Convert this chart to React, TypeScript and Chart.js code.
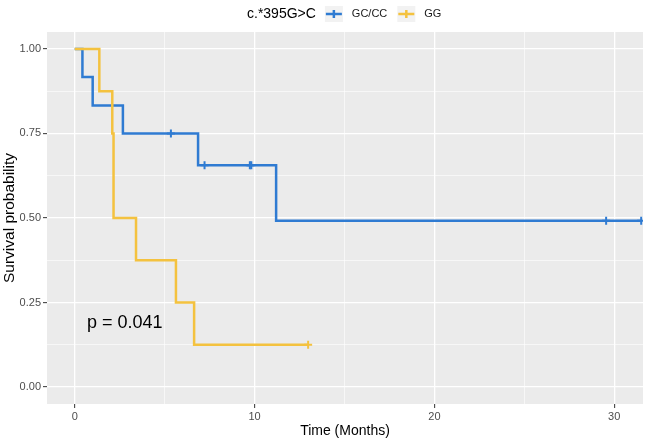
import React, { useEffect, useRef } from 'react';
import { Chart, registerables } from 'chart.js';

Chart.register(...registerables);

// Kaplan–Meier step data (time in months, survival probability)
const blueTimes = [0, 0.43, 1.0, 2.68, 6.86, 11.2, 31.5];
const blueSurv = [1, 0.917, 0.833, 0.75, 0.656, 0.492, 0.492];
const blueCensorTimes = [5.35, 7.22, 9.74, 9.82, 29.55, 31.5];
const blueCensorSurv = [0.75, 0.656, 0.656, 0.656, 0.492, 0.492];

const yellowTimes = [0, 1.37, 2.09, 2.16, 3.41, 5.63, 6.64, 12.98];
const yellowSurv = [1, 0.875, 0.75, 0.5, 0.375, 0.25, 0.125, 0.125];
const yellowCensorTimes = [12.98];
const yellowCensorSurv = [0.125];

const xTickValues = [0, 5, 10, 15, 20, 25, 30];
const yTickValues = [0, 0.125, 0.25, 0.375, 0.5, 0.625, 0.75, 0.875, 1];

const legendTitle = 'c.*395G>C';
const groupLabels = ['GC/CC', 'GG'];
const groupColors = ['#2F7BD2', '#F4C23F'];
const pValueText = 'p = 0.041';

const FONT = '"Liberation Sans", Arial, Helvetica, sans-serif';

const toPoints = (xs: number[], ys: number[]) => xs.map((x, i) => ({ x, y: ys[i] }));

export default function App() {
  const canvasRef = useRef<HTMLCanvasElement | null>(null);

  useEffect(() => {
    document.body.style.margin = '0';
    const canvas = canvasRef.current;
    if (!canvas) return;

    const panelBg = {
      id: 'panelBg',
      beforeDraw(chart: any) {
        const { ctx, chartArea } = chart;
        ctx.save();
        ctx.fillStyle = '#EBEBEB';
        ctx.fillRect(chartArea.left, chartArea.top, chartArea.right - chartArea.left, chartArea.bottom - chartArea.top);
        ctx.restore();
      },
    };

    const annotations = {
      id: 'annotations',
      afterDraw(chart: any) {
        const { ctx, scales } = chart;
        ctx.save();
        // p-value
        ctx.font = `18px ${FONT}`;
        ctx.fillStyle = '#000000';
        ctx.textAlign = 'left';
        ctx.textBaseline = 'middle';
        ctx.fillText(pValueText, scales.x.getPixelForValue(0.68), scales.y.getPixelForValue(0.19));

        // legend
        const cy = 14;
        let x = 247;
        ctx.font = `14px ${FONT}`;
        ctx.fillStyle = '#000000';
        ctx.fillText(legendTitle, x, cy);
        x += ctx.measureText(legendTitle).width + 9;
        groupLabels.forEach((label, i) => {
          const kw = 18;
          ctx.fillStyle = '#F2F2F2';
          ctx.fillRect(x, cy - 8, kw, 16);
          ctx.strokeStyle = groupColors[i];
          ctx.lineWidth = 2.5;
          ctx.beginPath();
          ctx.moveTo(x + 1, cy);
          ctx.lineTo(x + kw - 1, cy);
          ctx.moveTo(x + kw / 2, cy - 4);
          ctx.lineTo(x + kw / 2, cy + 4);
          ctx.stroke();
          x += kw + 9;
          ctx.font = `11px ${FONT}`;
          ctx.fillStyle = '#1A1A1A';
          ctx.fillText(label, x, cy);
          x += ctx.measureText(label).width + 10;
        });
        ctx.restore();
      },
    };

    const chart = new Chart(canvas, {
      type: 'scatter',
      data: {
        datasets: [
          {
            label: groupLabels[1] + ' censor',
            data: toPoints(yellowCensorTimes, yellowCensorSurv),
            showLine: false,
            pointStyle: 'cross',
            pointRadius: 4,
            pointBorderWidth: 2,
            borderColor: groupColors[1],
            backgroundColor: groupColors[1],
            order: 0,
          },
          {
            label: groupLabels[1],
            data: toPoints(yellowTimes, yellowSurv),
            showLine: true,
            stepped: 'before',
            borderColor: groupColors[1],
            borderWidth: 2.5,
            pointRadius: 0,
            order: 1,
          },
          {
            label: groupLabels[0] + ' censor',
            data: toPoints(blueCensorTimes, blueCensorSurv),
            showLine: false,
            pointStyle: 'cross',
            pointRadius: 4,
            pointBorderWidth: 2,
            borderColor: groupColors[0],
            backgroundColor: groupColors[0],
            order: 2,
          },
          {
            label: groupLabels[0],
            data: toPoints(blueTimes, blueSurv),
            showLine: true,
            stepped: 'before',
            borderColor: groupColors[0],
            borderWidth: 2.5,
            pointRadius: 0,
            order: 3,
          },
        ],
      },
      options: {
        animation: false,
        responsive: false,
        devicePixelRatio: 1,
        layout: { autoPadding: false, padding: { top: 32, right: 2, left: 0, bottom: 0 } },
        plugins: {
          legend: { display: false },
          tooltip: { enabled: false },
        },
        scales: {
          x: {
            type: 'linear',
            min: -1.54,
            max: 31.6,
            afterBuildTicks: (scale: any) => {
              scale.ticks = xTickValues.map((v) => ({ value: v }));
            },
            afterFit: (scale: any) => {
              scale.height = 37;
              scale.paddingLeft = 0;
              scale.paddingRight = 0;
            },
            border: { display: false },
            grid: {
              color: '#FFFFFF',
              lineWidth: (c: any) => (c.tick && c.tick.value % 10 === 0 ? 1.3 : 0.6),
              tickColor: (c: any) => (c.tick && c.tick.value % 10 === 0 ? '#333333' : 'rgba(0,0,0,0)'),
              tickLength: 4,
              tickWidth: 1,
            },
            ticks: {
              autoSkip: false,
              maxRotation: 0,
              padding: 2,
              color: '#4D4D4D',
              font: { family: FONT, size: 11 },
              callback: (v: any) => (Number(v) % 10 === 0 ? String(v) : ''),
            },
            title: {
              display: true,
              text: 'Time (Months)',
              color: '#000000',
              font: { family: FONT, size: 14 },
              padding: { top: 0, bottom: 1 },
            },
          },
          y: {
            type: 'linear',
            min: -0.05,
            max: 1.05,
            afterBuildTicks: (scale: any) => {
              scale.ticks = yTickValues.map((v) => ({ value: v }));
            },
            afterFit: (scale: any) => {
              scale.width = 47;
              scale.paddingTop = 0;
              scale.paddingBottom = 0;
            },
            border: { display: false },
            grid: {
              color: '#FFFFFF',
              lineWidth: (c: any) => (c.tick && c.tick.value % 0.25 === 0 ? 1.3 : 0.6),
              tickColor: (c: any) => (c.tick && c.tick.value % 0.25 === 0 ? '#333333' : 'rgba(0,0,0,0)'),
              tickLength: 4,
              tickWidth: 1,
            },
            ticks: {
              autoSkip: false,
              padding: 2,
              color: '#4D4D4D',
              font: { family: FONT, size: 11 },
              callback: (v: any) => (Number(v) % 0.25 === 0 ? Number(v).toFixed(2) : ''),
            },
            title: {
              display: true,
              text: 'Survival probability',
              color: '#000000',
              font: { family: FONT, size: 15.5 },
              padding: { top: 0, bottom: 0 },
            },
          },
        },
      },
      plugins: [panelBg, annotations],
    } as any);

    return () => chart.destroy();
  }, []);

  return (
    <div style={{ position: 'absolute', left: 0, top: 0, width: 645, height: 441 }}>
      <canvas ref={canvasRef} width={645} height={441} style={{ width: 645, height: 441, display: 'block' }} />
    </div>
  );
}
